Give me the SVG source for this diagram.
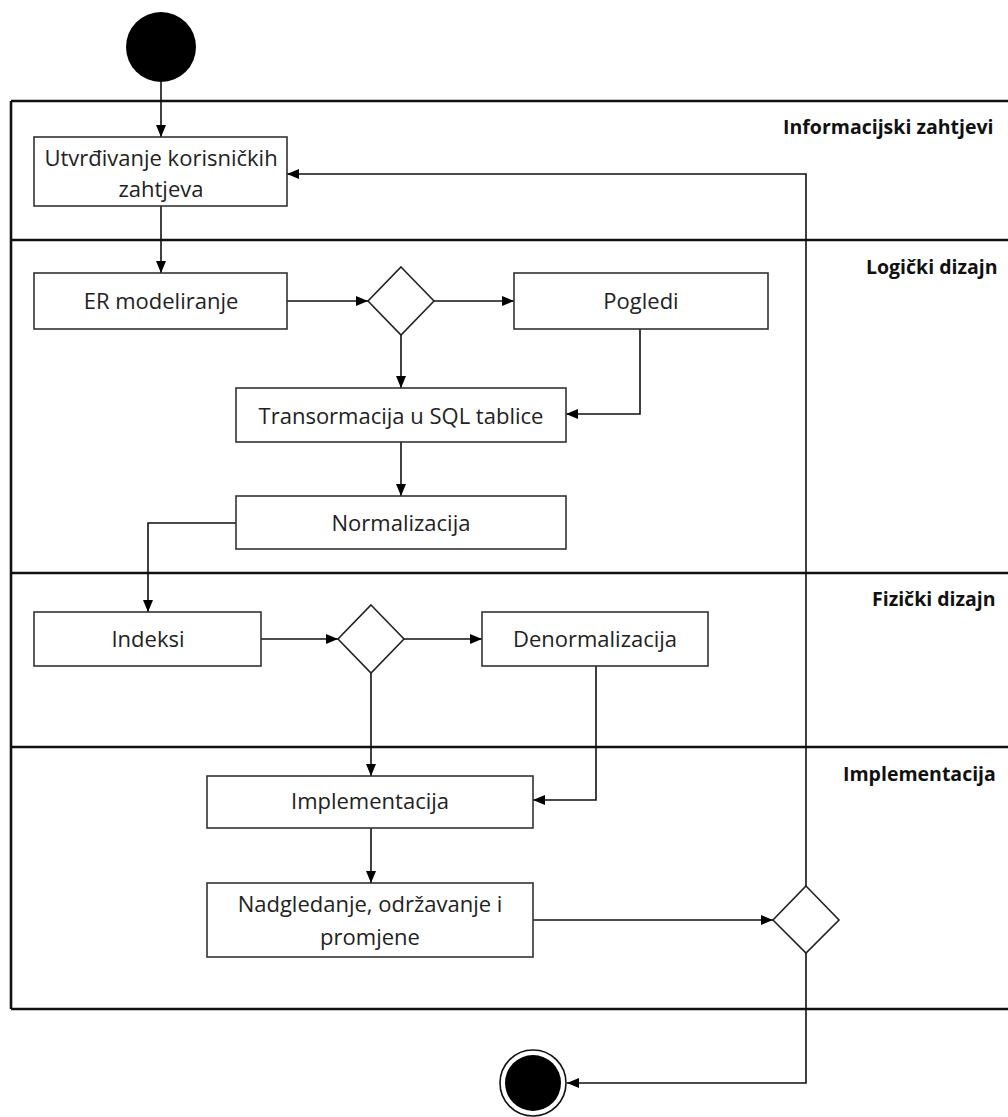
<svg xmlns="http://www.w3.org/2000/svg" width="1008" height="1117" viewBox="0 0 1008 1117">
<defs>
<marker id="ah" viewBox="0 0 12 10" refX="12" refY="5" markerWidth="12" markerHeight="10" markerUnits="userSpaceOnUse" orient="auto">
<path d="M0,0 L12,5 L0,10 Z" fill="#000"/>
</marker>
<style>
.lane{stroke:#111;stroke-width:2.6;fill:none}
.box{fill:#fff;stroke:#333;stroke-width:1.6}
.dec{fill:#fff;stroke:#222;stroke-width:1.6}
.lbl{font-family:"Open Sans",Lato,sans-serif;font-size:22px;fill:#222;text-anchor:middle}
.lt{font-family:"Open Sans",Lato,sans-serif;font-size:19.5px;font-weight:bold;fill:#111}
.con{stroke:#111;stroke-width:1.6;fill:none;marker-end:url(#ah)}
</style>
</defs>
<rect width="1008" height="1117" fill="#fff"/>
<g id="lanes">
<path class="lane" d="M11,101 H1010 M11,101 V1009 M11,240 H1010 M11,573 H1010 M11,747 H1010 M11,1009 H1010"/>
<text class="lt" x="783" y="134">Informacijski zahtjevi</text>
<text class="lt" x="866" y="274">Logički dizajn</text>
<text class="lt" x="872" y="606">Fizički dizajn</text>
<text class="lt" x="843" y="781">Implementacija</text>
</g>
<g id="connectors">
<path class="con" d="M161,82 V137"/>
<path class="con" d="M161,206 V273"/>
<path class="con" d="M287,301 H368"/>
<path class="con" d="M434,301 H514"/>
<path class="con" d="M401,335 V388"/>
<path class="con" d="M640,329 V414 H566"/>
<path class="con" d="M401,442 V496"/>
<path class="con" d="M236,523 H148 V612"/>
<path class="con" d="M261,639 H338"/>
<path class="con" d="M404,639 H482"/>
<path class="con" d="M371,673 V776"/>
<path class="con" d="M596,666 V800 H533"/>
<path class="con" d="M371,828 V883"/>
<path class="con" d="M533,920 H773"/>
<path class="con" d="M806,886 V174 H287"/>
<path class="con" d="M806,953 V1083 H567"/>
</g>
<g id="start"><circle cx="161" cy="47" r="35" fill="#000"/></g>
<g id="n1"><rect class="box" x="34" y="137" width="253" height="69"/>
<text class="lbl" x="161" y="166">Utvrđivanje korisničkih</text>
<text class="lbl" x="161" y="197">zahtjeva</text></g>
<g id="n2"><rect class="box" x="34" y="273" width="253" height="56"/><text class="lbl" x="161" y="309">ER modeliranje</text></g>
<g id="d1"><path class="dec" d="M401,267 L434,301 L401,335 L368,301 Z"/></g>
<g id="n3"><rect class="box" x="514" y="273" width="254" height="56"/><text class="lbl" x="641" y="309">Pogledi</text></g>
<g id="n4"><rect class="box" x="236" y="388" width="330" height="54"/><text class="lbl" x="401" y="424">Transormacija u SQL tablice</text></g>
<g id="n5"><rect class="box" x="236" y="496" width="330" height="53"/><text class="lbl" x="401" y="531">Normalizacija</text></g>
<g id="n6"><rect class="box" x="34" y="612" width="227" height="54"/><text class="lbl" x="148" y="647">Indeksi</text></g>
<g id="d2"><path class="dec" d="M371,605 L404,639 L371,673 L338,639 Z"/></g>
<g id="n7"><rect class="box" x="482" y="612" width="226" height="54"/><text class="lbl" x="595" y="647">Denormalizacija</text></g>
<g id="n8"><rect class="box" x="207" y="776" width="326" height="52"/><text class="lbl" x="370" y="809">Implementacija</text></g>
<g id="n9"><rect class="box" x="207" y="883" width="326" height="74"/>
<text class="lbl" x="370" y="912">Nadgledanje, održavanje i</text>
<text class="lbl" x="370" y="945">promjene</text></g>
<g id="d3"><path class="dec" d="M806,886 L839,920 L806,953 L773,920 Z"/></g>
<g id="end"><circle cx="533" cy="1083" r="33" fill="#fff" stroke="#111" stroke-width="1.6"/><circle cx="533" cy="1083" r="28" fill="#000"/></g>
</svg>
